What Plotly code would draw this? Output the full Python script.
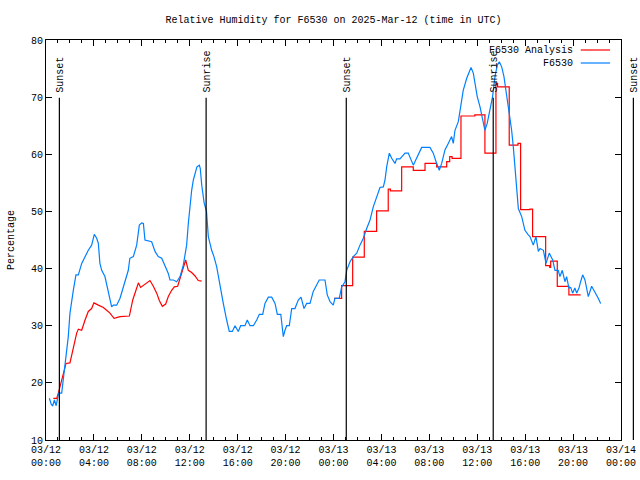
import pandas as pd
import plotly.graph_objects as go

BASE = pd.Timestamp("2025-03-12 00:00")
X_START = pd.Timestamp("2025-03-12 00:00")
X_END = pd.Timestamp("2025-03-14 00:00")

title_text = "Relative Humidity for F6530 on 2025-Mar-12 (time in UTC)"
y_title = "Percentage"
obs_name = "F6530"
ana_name = "F6530 Analysis"

# Observed F6530 relative humidity: hours after 03/12 00:00 UTC, percent
obs_hours = [0.28, 0.45, 0.56, 0.7, 0.85, 0.95, 1.05, 1.31, 1.45, 1.59, 1.75, 1.86, 2.0, 2.14, 2.28,
             2.5, 2.7, 2.98, 3.26, 3.53, 3.81, 4.03, 4.23, 4.37, 4.5, 4.65, 4.92, 5.2, 5.48, 5.62,
             5.9, 6.18, 6.45, 6.73, 6.87, 7.0, 7.29, 7.57, 7.79, 7.99, 8.13, 8.26, 8.54, 8.82, 9.1,
             9.37, 9.66, 9.93, 10.2, 10.35, 10.63, 10.91, 11.19, 11.46, 11.74, 11.88, 12.02, 12.16,
             12.3, 12.44, 12.6, 12.8, 12.88, 13.0, 13.2, 13.4, 13.55, 13.83, 14.02, 14.25, 14.52,
             14.8, 15.08, 15.3, 15.55, 15.78, 16.05, 16.25, 16.61, 16.8, 17.03, 17.31, 17.59, 17.81,
             18.09, 18.28, 18.56, 18.84, 19.12, 19.31, 19.6, 19.73, 19.81, 19.95, 20.09, 20.31,
             20.51, 20.78, 21.06, 21.29, 21.54, 21.76, 22.04, 22.31, 22.6, 22.81, 23.29, 23.48,
             23.71, 23.98, 24.12, 24.48, 24.68, 24.96, 25.1, 25.38, 25.65, 25.94, 26.21, 26.49,
             26.77, 27.05, 27.32, 27.6, 27.88, 28.16, 28.3, 28.44, 28.66, 28.86, 29.13, 29.27,
             29.55, 29.97, 30.24, 30.66, 30.94, 31.36, 32.05, 32.33, 32.61, 32.83, 33.03, 33.31,
             33.58, 33.86, 34.0, 34.14, 34.42, 34.64, 34.83, 35.12, 35.33, 35.48, 35.67, 35.81,
             36.0, 36.23, 36.45, 36.64, 36.83, 37.06, 37.28, 37.48, 37.67, 37.84, 38.04, 38.23,
             38.4, 38.59, 38.73, 38.87, 39.01, 39.15, 39.29, 39.43, 39.71, 39.98, 40.26, 40.4,
             40.68, 40.9, 41.1, 41.24, 41.52, 41.74, 42.01, 42.3, 42.49, 42.76, 42.9, 43.1, 43.32,
             43.46, 43.65, 43.8, 43.96, 44.15, 44.3, 44.49, 44.63, 44.8, 44.99, 45.27, 45.55,
             45.83, 46.1, 46.3]
obs_values = [17.3, 16.2, 16.0, 17.0, 16.0, 17.5, 18.2, 18.2, 21.0, 23.7, 26.5, 28.1, 32.2, 34.5, 36.2,
              38.9, 38.9, 40.9, 42.1, 43.2, 44.1, 46.0, 45.3, 44.4, 40.9, 39.7, 38.6, 36.0, 33.3, 33.6,
              33.6, 34.8, 36.8, 38.6, 39.7, 41.8, 42.1, 44.1, 47.6, 48.0, 47.9, 45.0, 44.9, 44.7, 43.0,
              42.1, 41.8, 40.6, 39.2, 38.0, 38.0, 37.7, 38.6, 40.6, 44.1, 47.9, 51.4, 53.7,
              55.5, 56.4, 57.8, 58.1, 57.5, 54.6, 51.5, 50.0, 45.6, 43.2, 42.1, 40.3, 36.8,
              33.9, 31.0, 29.0, 29.0, 30.0, 29.0, 30.0, 30.0, 31.0, 30.0, 30.0, 31.0, 32.0,
              32.0, 33.9, 35.0, 35.0, 33.9, 32.0, 32.0, 29.2, 28.1, 29.2, 30.0, 30.0,
              33.0, 33.0, 34.5, 35.0, 33.0, 33.9, 33.9, 36.0, 37.1, 38.0, 38.0, 35.4,
              34.2, 33.6, 34.8, 34.8, 36.8, 37.7, 39.7, 41.2, 42.1, 42.7, 44.1, 45.3,
              47.0, 48.5, 50.8, 52.6, 54.2, 54.3, 55.5, 57.8, 60.2, 59.3, 58.4, 59.2,
              59.2, 60.2, 60.2, 58.1, 59.3, 61.2, 61.2, 60.2, 58.4, 57.2, 58.4, 60.8,
              61.9, 63.1, 61.9, 64.2, 65.7, 68.3, 71.2, 73.3, 74.5, 75.2, 74.2, 72.4,
              70.1, 68.3, 66.0, 64.2, 65.4, 67.8, 70.1, 73.6, 75.6, 76.2, 75.3, 73.6,
              71.2, 68.3, 66.6, 64.2, 61.3, 57.8, 53.7, 50.5, 49.1, 46.7, 45.9, 45.6,
              44.1, 45.6, 43.0, 43.5, 43.2, 40.9, 42.7, 41.5, 39.7, 39.7, 38.6, 39.7, 37.7,
              38.6, 36.6, 36.7, 35.7, 36.6, 35.7, 36.6, 37.7, 38.9, 38.0, 35.1, 36.9,
              35.9, 34.8, 33.9]

# Analysis series, first run (12 Mar daytime, continuous)
ana1_hours = [0.61, 0.9, 1.03, 1.17, 1.39, 1.5, 1.67, 2.0, 2.28, 2.56, 2.7, 2.98, 3.26, 3.53, 3.81,
              4.0, 4.37, 4.79, 5.06, 5.34, 5.68, 6.18, 6.96, 7.24, 7.51, 7.71, 7.9, 8.26, 8.68,
              8.96, 9.24, 9.46, 9.71, 9.99, 10.21, 10.49, 10.71, 10.99, 11.19, 11.41, 11.66, 11.88,
              12.16, 12.44, 12.71, 12.99]
ana1_values = [17.3, 17.3, 18.2, 19.3, 21.1, 22.0, 23.4, 23.5, 26.3, 28.7, 29.4, 29.2, 31.0, 32.5, 33.0,
               34.0, 33.6, 33.2, 32.7, 32.2, 31.3, 31.6, 31.7, 34.5, 36.2, 37.5, 36.7, 37.3, 37.9,
               36.9, 35.7, 34.4, 33.4, 33.8, 35.1, 36.2, 36.8, 36.9, 38.3, 39.4, 41.5, 39.7,
               39.3, 38.7, 37.9, 37.8]
# Analysis series, second run (hourly steps)
ana2_hours = [24.04, 24.68, 25.6, 26.57, 27.6, 28.57, 28.75, 29.69, 30.66, 31.64, 32.61, 33.45,
              33.7, 33.9, 34.64, 35.8, 36.64, 37.56, 37.7, 38.67, 39.4, 39.62, 40.4, 40.62, 41.71,
              42.05, 42.13, 42.68, 43.65, 44.63]
ana2_values = [34.8, 37.0, 42.0, 46.5, 50.1, 53.9, 53.6, 57.8, 57.2, 58.4, 57.8, 58.7,
               59.6, 59.3, 66.7, 66.9, 60.2, 72.4, 71.8, 61.6, 61.9, 50.3, 50.4, 45.6, 40.5,
               40.2, 41.3, 36.9, 35.4, 35.4]

sun_labels = ["Sunset", "Sunrise", "Sunset", "Sunrise", "Sunset"]
sun_times = ["2025-03-12 01:07", "2025-03-12 13:22", "2025-03-13 01:04",
             "2025-03-13 13:20", "2025-03-14 01:02"]

Y_MIN, Y_MAX = 10, 80
SUN_LINE_TOP = 69.9
SUN_LABEL_Y = 70.5

RED = "#ff0000"
BLUE = "#0080ff"
FONT = "Liberation Mono, DejaVu Sans Mono, monospace"


def to_time(hours):
    return [BASE + pd.Timedelta(hours=h) for h in hours]


fig = go.Figure()
fig.add_trace(go.Scatter(x=to_time(ana1_hours), y=ana1_values, mode="lines", name=ana_name,
                         line=dict(color=RED, width=1.2), showlegend=False))
fig.add_trace(go.Scatter(x=to_time(ana2_hours), y=ana2_values, mode="lines", name=ana_name,
                         line=dict(color=RED, width=1.2, shape="hv"), showlegend=False))
fig.add_trace(go.Scatter(x=to_time(obs_hours), y=obs_values, mode="lines", name=obs_name,
                         line=dict(color=BLUE, width=1.2), showlegend=False))

span = (X_END - X_START).total_seconds()
shapes = []
annotations = []
for lab, ts in zip(sun_labels, sun_times):
    frac = (pd.Timestamp(ts) - X_START).total_seconds() / span
    shapes.append(dict(type="line", xref="x domain", yref="y", x0=frac, x1=frac,
                       y0=Y_MIN, y1=SUN_LINE_TOP, line=dict(color="black", width=1.2)))
    annotations.append(dict(xref="x domain", yref="y", x=frac, y=SUN_LABEL_Y, text=lab,
                            textangle=-90, showarrow=False, xanchor="center", yanchor="bottom",
                            xshift=1, font=dict(family=FONT, size=10, color="black")))

# legend drawn gnuplot-style: text right-aligned, sample line to the right
leg_rows = [(ana_name, RED, 0.975), (obs_name, BLUE, 0.9425)]
for name, col, yy in leg_rows:
    annotations.append(dict(xref="paper", yref="paper", x=0.920, y=yy, text=name,
                            showarrow=False, xanchor="right", yanchor="middle",
                            font=dict(family=FONT, size=10, color="black")))
    shapes.append(dict(type="line", xref="paper", yref="paper", x0=0.930, x1=0.981,
                       y0=yy, y1=yy, line=dict(color=col, width=1.2)))

annotations.append(dict(xref="paper", yref="paper", x=-0.061, y=0.5, text=y_title,
                        textangle=-90, showarrow=False, xanchor="center", yanchor="middle",
                        font=dict(family=FONT, size=10, color="black")))

fig.update_layout(
    template="none",
    width=640, height=480, autosize=False,
    margin=dict(l=46, r=19, t=40, b=40, pad=0),
    paper_bgcolor="white", plot_bgcolor="white",
    font=dict(family=FONT, size=10, color="black"),
    title=dict(text=title_text, x=333.5 / 640, xanchor="center",
               y=1 - 19 / 480, yanchor="middle", yref="container",
               font=dict(family=FONT, size=10, color="black")),
    shapes=shapes, annotations=annotations, showlegend=False,
)
fig.update_xaxes(type="date", range=[X_START, X_END], showgrid=False, zeroline=False,
                 automargin=False,
                 showline=True, linecolor="black", linewidth=1, mirror="allticks",
                 ticks="inside", ticklen=6, tickcolor="black",
                 tick0=X_START, dtick=4 * 3600 * 1000, tickformat="%m/%d<br>%H:%M",
                 minor=dict(dtick=3600 * 1000, ticks="inside", ticklen=3, tickcolor="black"),
                 tickfont=dict(family=FONT, size=10, color="black"))
fig.update_yaxes(range=[Y_MIN, Y_MAX], dtick=10, showgrid=False, zeroline=False,
                 automargin=False,
                 showline=True, linecolor="black", linewidth=1, mirror="allticks",
                 ticks="inside", ticklen=6, tickcolor="black",
                 tickfont=dict(family=FONT, size=10, color="black"))

post = ("document.body.style.margin='0';document.body.style.padding='0';"
        "document.body.style.overflow='hidden';")
fig.write_html("out.html", post_script=post,
               config={"responsive": False, "displayModeBar": False})
